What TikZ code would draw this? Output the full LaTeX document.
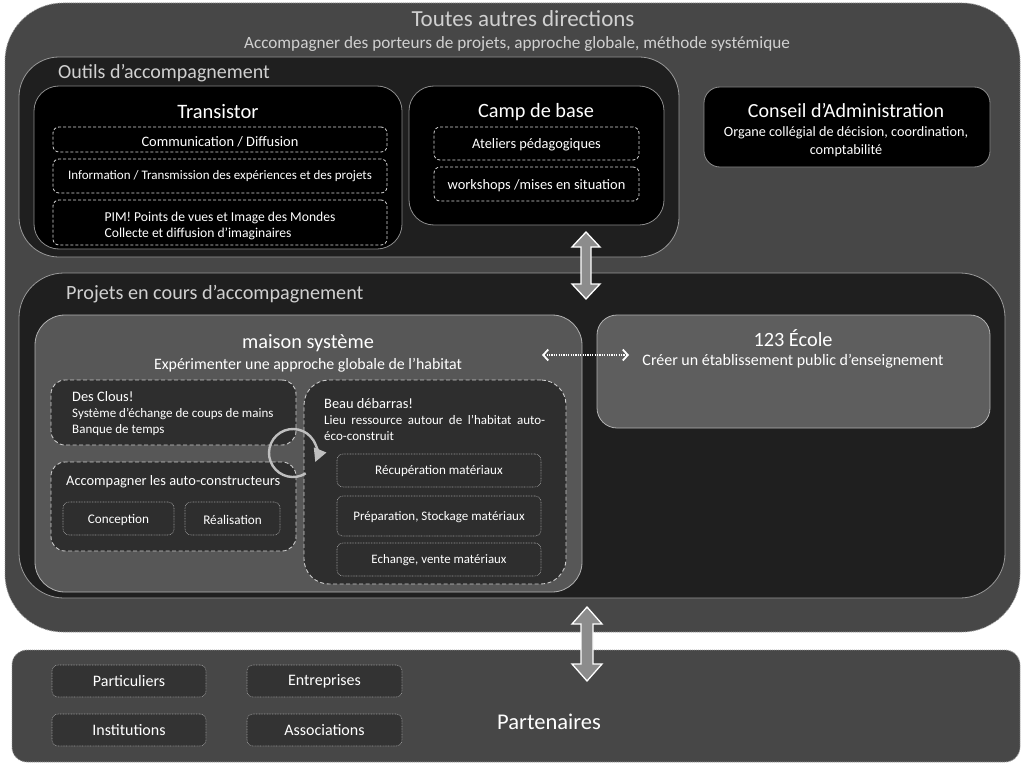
\documentclass[tikz,border=0pt]{standalone}
\usepackage{fontspec}
\setmainfont{Carlito}
\usetikzlibrary{arrows.meta,calc}
\definecolor{gOuter}{HTML}{474747}
\definecolor{gDark}{HTML}{1F1F1F}
\definecolor{gMaison}{HTML}{575757}
\definecolor{gEcole}{HTML}{5E5E5E}
\definecolor{gInner}{HTML}{2E2E2E}
\definecolor{gPart}{HTML}{333333}
\definecolor{gBorder}{HTML}{9A9A9A}
\definecolor{gText}{HTML}{D0D0D0}
\definecolor{gArrow}{HTML}{8C8C8C}
\newcommand\fsz[2]{\fontsize{#1}{#2}\selectfont}
\tikzset{
  box/.style={anchor=north west, inner sep=0pt, outer sep=0pt},
  outerbox/.style={box, fill=gOuter, draw=gBorder, line width=0.9pt, dash pattern=on 1pt off 1pt},
  darkregion/.style={box, fill=gDark, draw=gray!80, line width=0.8pt},
  blackbox/.style={box, fill=black, draw=gray!90, line width=0.8pt, rounded corners=25pt},
  dashbox/.style={box, draw=white!85!black, dashed, dash pattern=on 3pt off 2pt, line width=0.8pt, rounded corners=6pt},
  dashregion/.style={box, fill=gInner, draw=white!80!black, dash pattern=on 4pt off 2.5pt, line width=0.9pt},
  dotbox/.style={box, fill=gInner, draw=gBorder, dash pattern=on 0.8pt off 0.8pt, line width=0.6pt, rounded corners=6pt},
  partbox/.style={box, fill=gPart, draw=gBorder, dash pattern=on 0.8pt off 0.8pt, line width=0.6pt, rounded corners=6pt},
  lbl/.style={text=white, inner sep=0pt},
  bigarrow/.style={fill=gArrow, draw=white, line width=1.3pt, line join=miter},
}
\begin{document}
\begin{tikzpicture}[x=1pt,y=-1pt]
\fill[white] (0,0) rectangle (1024,765);
\useasboundingbox (0,0) rectangle (1024,765);

% ---- outer region
\node[outerbox, rounded corners=58pt, minimum width=1015pt, minimum height=629pt] (toutes) at (5,3) {};
\node[lbl, text=gText, font=\fsz{23}{27}] (toutesT) at (523,19) {Toutes autres directions};
\node[lbl, text=gText, font=\fsz{17.2}{20}] (toutesS) at (517,44) {Accompagner des porteurs de projets, approche globale, méthode systémique};

% ---- Outils
\node[darkregion, rounded corners=40pt, minimum width=660pt, minimum height=200pt] (outils) at (19,57) {};
\node[lbl, text=gText, anchor=west, font=\fsz{20}{23}] (outilsT) at (58,73) {Outils d’accompagnement};

\node[blackbox, minimum width=368pt, minimum height=163pt] (transistor) at (34,86) {};
\node[lbl, font=\fsz{20.5}{23}] (transistorT) at (218,112) {Transistor};
\node[dashbox, minimum width=334pt, minimum height=25pt] (t1) at (53,127) {};
\node[lbl, font=\fsz{14.4}{17}] at ($(t1.center)+(0,2.5)$) {Communication / Diffusion};
\node[dashbox, minimum width=334pt, minimum height=34pt] (t2) at (53,159) {};
\node[lbl, font=\fsz{13}{16}] at ($(t2.center)+(0,0.5)$) {Information / Transmission des expériences et des projets};
\node[dashbox, minimum width=334pt, minimum height=45pt] (t3) at (53,200) {};
\node[lbl, font=\fsz{13.6}{16.5}, align=left] at ($(t3.center)+(0,3.5)$) {PIM! Points de vues et Image des Mondes\\Collecte et diffusion d’imaginaires};

\node[blackbox, minimum width=255pt, minimum height=139pt] (camp) at (409,86) {};
\node[lbl, font=\fsz{20.3}{23}] (campT) at (536,112) {Camp de base};
\node[dashbox, minimum width=205pt, minimum height=33pt] (c1) at (434,127) {};
\node[lbl, font=\fsz{14.4}{17}] at ($(c1.center)+(0,1)$) {Ateliers pédagogiques};
\node[dashbox, minimum width=205pt, minimum height=34pt] (c2) at (434,167) {};
\node[lbl, font=\fsz{14.4}{17}] at ($(c2.center)+(0,1.5)$) {workshops /mises en situation};

\node[blackbox, rounded corners=16pt, minimum width=286pt, minimum height=80pt] (conseil) at (704,87) {};
\node[lbl, font=\fsz{20}{23}] (conseilT) at (846,111) {Conseil d’Administration};
\node[lbl, font=\fsz{14.2}{18}, align=center] (conseilS) at (846,142) {Organe collégial de décision, coordination,\\comptabilité};

% ---- Projets
\node[darkregion, rounded corners=45pt, minimum width=986pt, minimum height=325pt] (projets) at (19,273) {};
\node[lbl, text=gText, anchor=west, font=\fsz{20.2}{23}] (projetsT) at (66,294) {Projets en cours d’accompagnement};

\node[box, fill=gMaison, draw=white!70!black, line width=0.8pt, rounded corners=30pt, minimum width=547pt, minimum height=277pt] (maison) at (35,315) {};
\node[lbl, font=\fsz{20.3}{23}] (maisonT) at (308,343) {maison système};
\node[lbl, font=\fsz{15.9}{19}] (maisonS) at (308,365) {Expérimenter une approche globale de l’habitat};

\node[box, fill=gEcole, draw=white!70!black, line width=0.8pt, rounded corners=20pt, minimum width=393pt, minimum height=113pt] (ecole) at (597,315) {};
\node[lbl, font=\fsz{20.3}{23}] (ecoleT) at (793,338) {123 École};
\node[lbl, font=\fsz{16}{19}] (ecoleS) at (793,361) {Créer un établissement public d’enseignement};

\coordinate (dL) at (542,355);
\coordinate (dR) at (629,355);
\draw[white, line width=1.6pt, dash pattern=on 1.2pt off 1.2pt, {Straight Barb[length=5pt,width=11pt,line width=1.8pt]}-{Straight Barb[length=5pt,width=11pt,line width=1.8pt]}] (dL) -- (dR);

\node[dashregion, rounded corners=14pt, minimum width=245pt, minimum height=65pt] (clous) at (51,380) {};
\node[lbl, anchor=north west, align=left, font=\fsz{13}{16}] (clousT) at (72,391) {{\fsz{14.4}{16}Des Clous!}\\Système d’échange de coups de mains\\Banque de temps};

\node[dashregion, rounded corners=14pt, minimum width=245pt, minimum height=89pt] (accomp) at (51,462) {};
\node[lbl, anchor=west, font=\fsz{14.4}{17}] (accompT) at (66,481.5) {Accompagner les auto-constructeurs};
\node[dotbox, minimum width=111pt, minimum height=33pt] (conception) at (63,502) {};
\node[lbl, font=\fsz{13.2}{16}] at ($(conception.center)+(0,1)$) {Conception};
\node[dotbox, minimum width=95pt, minimum height=33pt] (realisation) at (185,502) {};
\node[lbl, font=\fsz{13.2}{16}] at ($(realisation.center)+(0,1)$) {Réalisation};

\node[dashregion, rounded corners=25pt, minimum width=262pt, minimum height=204pt] (beau) at (304,380) {};
\node[lbl, anchor=north west, font=\fsz{14.4}{17}] (beauT) at (324,398) {Beau débarras!};
\node[lbl, anchor=north west, text width=221pt, align=justify, font=\fsz{13}{16}] (beauS) at (324,415.5) {Lieu ressource autour de l’habitat auto-\linebreak éco-construit};
\node[dotbox, minimum width=204pt, minimum height=33pt] (recup) at (337,454) {};
\node[lbl, font=\fsz{13.1}{16}] at ($(recup.center)+(0,1)$) {Récupération matériaux};
\node[dotbox, minimum width=204pt, minimum height=40pt] (prep) at (337,496) {};
\node[lbl, font=\fsz{13}{16}] at ($(prep.center)+(0,1)$) {Préparation, Stockage matériaux};
\node[dotbox, minimum width=204pt, minimum height=33pt] (echange) at (337,543) {};
\node[lbl, font=\fsz{12.9}{16}] at ($(echange.center)+(0,1)$) {Echange, vente matériaux};

% circular arrow
\coordinate (circC) at (293,453);
\draw[white!75!black, line width=2.4pt, -{Triangle[length=13pt,width=13pt]}] ($(circC)+(58:24)$) arc[start angle=58, end angle=382, radius=24];

% ---- upper arrow
\coordinate (ua) at (586,232);
\coordinate (ub) at (586,299);
\draw[bigarrow] (ua) -- ++(14,15) -- ++(-9,0) -- ++(0,37) -- ++(9,0) -- (ub) -- ++(-14,-15) -- ++(9,0) -- ++(0,-37) -- ++(-9,0) -- cycle;

% ---- Partenaires
\node[outerbox, rounded corners=15pt, minimum width=1008pt, minimum height=112pt] (partenaires) at (12,650) {};
\node[lbl, font=\fsz{22.5}{26}] (partenairesT) at (549,722) {Partenaires};
\node[partbox, minimum width=154pt, minimum height=32pt] (particuliers) at (52,665) {};
\node[lbl, font=\fsz{16}{19}] at (particuliers.center) {Particuliers};
\node[partbox, minimum width=155pt, minimum height=32pt] (entreprises) at (247,665) {};
\node[lbl, font=\fsz{16}{19}] at (entreprises.center) {Entreprises};
\node[partbox, minimum width=154pt, minimum height=32pt] (institutions) at (52,714) {};
\node[lbl, font=\fsz{16}{19}] at (institutions.center) {Institutions};
\node[partbox, minimum width=155pt, minimum height=32pt] (associations) at (247,714) {};
\node[lbl, font=\fsz{16}{19}] at (associations.center) {Associations};

% ---- lower arrow
\coordinate (la) at (587,607);
\coordinate (lb) at (587,681);
\draw[bigarrow] (la) -- ++(15,17) -- ++(-9,0) -- ++(0,40) -- ++(9,0) -- (lb) -- ++(-15,-17) -- ++(9,0) -- ++(0,-40) -- ++(-9,0) -- cycle;
\end{tikzpicture}
\end{document}
